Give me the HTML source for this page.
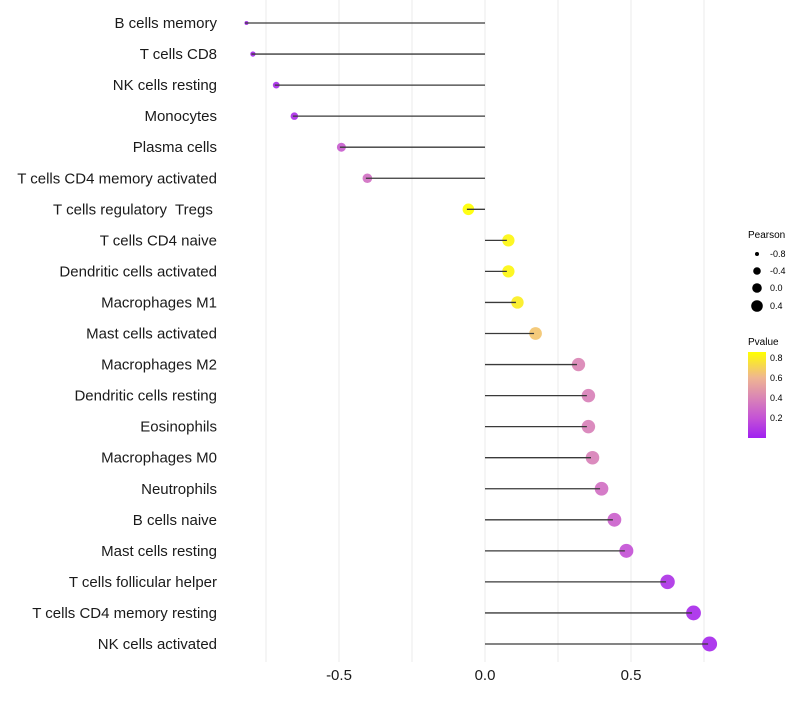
<!DOCTYPE html>
<html><head><meta charset="utf-8"><style>
body{margin:0;background:#fff;font-family:"Liberation Sans",sans-serif}
</style></head><body>
<svg width="800" height="700" xmlns="http://www.w3.org/2000/svg" font-family="Liberation Sans, sans-serif">
<defs><linearGradient id="pg" x1="0" y1="1" x2="0" y2="0">
<stop offset="0" stop-color="#a020f0"/><stop offset="0.23" stop-color="#c452d6"/><stop offset="0.45" stop-color="#d881b8"/><stop offset="0.7" stop-color="#efb592"/><stop offset="1" stop-color="#ffff00"/>
</linearGradient></defs>
<g id="grid"></g><g id="dots"></g><g id="stems"></g><g id="labels"></g><g id="xt"></g>
<g font-size="9">
<text x="748" y="238" font-size="10">Pearson</text>
<circle cx="757" cy="254" r="2" fill="#000"/><text x="770" y="257">-0.8</text>
<circle cx="757" cy="271" r="3.8" fill="#000"/><text x="770" y="274">-0.4</text>
<circle cx="757" cy="288" r="4.8" fill="#000"/><text x="770" y="291">0.0</text>
<circle cx="757" cy="306" r="5.8" fill="#000"/><text x="770" y="309">0.4</text>
</g>
<g font-size="9">
<text x="748" y="345" font-size="10">Pvalue</text>
<rect x="748" y="352" width="18" height="86" fill="url(#pg)"/>
<text x="770" y="361">0.8</text><text x="770" y="381">0.6</text><text x="770" y="401">0.4</text><text x="770" y="421">0.2</text>
</g>
</svg>
<script>
const cells=["B cells memory","T cells CD8","NK cells resting","Monocytes","Plasma cells","T cells CD4 memory activated","T cells regulatory  Tregs\u00a0","T cells CD4 naive","Dendritic cells activated","Macrophages M1","Mast cells activated","Macrophages M2","Dendritic cells resting","Eosinophils","Macrophages M0","Neutrophils","B cells naive","Mast cells resting","T cells follicular helper","T cells CD4 memory resting","NK cells activated"];
const pearson=[-0.822,-0.80,-0.72,-0.658,-0.497,-0.408,-0.062,0.075,0.075,0.106,0.168,0.315,0.349,0.349,0.363,0.394,0.438,0.479,0.62,0.709,0.764];
const pvalue=[0.03,0.04,0.05,0.06,0.25,0.33,0.88,0.85,0.85,0.82,0.68,0.42,0.4,0.4,0.4,0.33,0.27,0.2,0.08,0.05,0.04];
const xticks=[-0.5,0,0.5];
const gridv=[-0.75,-0.5,-0.25,0,0.25,0.5,0.75];
const NS="http://www.w3.org/2000/svg";
const X=v=>485+v*292, Y=i=>23+i*31.05;
const R=v=>2+5.5*Math.sqrt(Math.max(0,(v+0.822)/1.586));
const stops=[[0,[160,32,240]],[0.2,[196,82,214]],[0.4,[216,129,184]],[0.62,[239,181,146]],[0.88,[255,255,0]]];
function col(p){p=Math.max(0,Math.min(0.88,p));for(let k=1;k<stops.length;k++){if(p<=stops[k][0]){const a=stops[k-1],b=stops[k],t=(p-a[0])/(b[0]-a[0]);return "rgb("+a[1].map((c,j)=>Math.round(c+(b[1][j]-c)*t)).join(",")+")";}}return "yellow";}
function mk(t,a,p){const e=document.createElementNS(NS,t);for(const k in a)e.setAttribute(k,a[k]);p.appendChild(e);return e;}
const g=document.getElementById('grid'),dg=document.getElementById('dots'),sg=document.getElementById('stems'),l=document.getElementById('labels'),xt=document.getElementById('xt');
gridv.forEach(v=>{const e=mk('line',{x1:X(v),x2:X(v),y1:0,y2:662,stroke:'#ebebeb','stroke-width':1},g);

});
xticks.forEach(v=>{const e=mk('text',{x:X(v),y:680,'text-anchor':'middle','font-size':15,fill:'#1a1a1a'},xt);e.textContent=v===0?'0.0':v.toFixed(1);

});
cells.forEach((c,i)=>{
const d=mk('circle',{cx:X(pearson[i])+1.5,cy:Y(i),r:R(pearson[i]),fill:col(pvalue[i]),'fill-opacity':0.92},dg);


const s=mk('line',{x1:X(0),x2:X(pearson[i]),y1:Y(i),y2:Y(i),stroke:'#3a3a3a','stroke-width':1.3},sg);


const t=mk('text',{x:217,y:Y(i)+5,'text-anchor':'end','font-size':15,fill:'#1a1a1a','xml:space':'preserve'},l);t.textContent=c;
t.style.whiteSpace='pre';


});
</script>
</body></html>
